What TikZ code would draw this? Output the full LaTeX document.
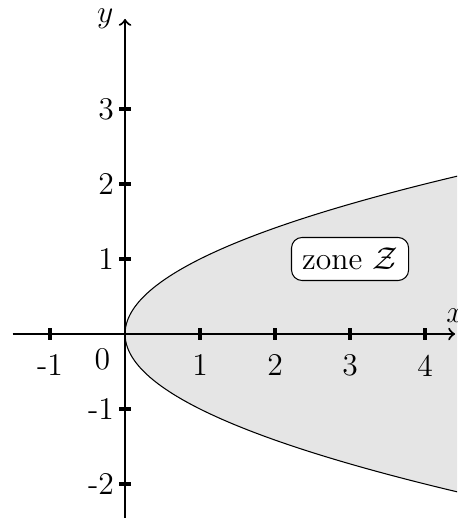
\documentclass[tikz,border=0pt,12pt]{standalone}
\usepackage{amsmath,amssymb}
\begin{document}
\begin{tikzpicture}
\useasboundingbox (-1.667,-2.453) rectangle (4.427,4.453);
\clip (-1.667,-2.453) rectangle (4.427,4.453);
\draw[fill=gray!20,domain=-2.3:2.3,samples=120,smooth,variable=\t] plot ({\t*\t},{\t});
\draw[thick,->] (-1.5,0) -- (4.4,0) node[above] (xlab) {$x$};
\draw[thick,->] (0,-2.5) -- (0,4.2) node[left] (ylab) {$y$};
\foreach \i in {-1,1,2,3,4} \draw[very thick] (\i,-0.075) -- (\i,0.075);
\foreach \i in {-2,-1,1,2,3} \draw[very thick] (-0.075,\i) -- (0.075,\i);
\node[below] (xm1) at (-1,-0.13) {-1};
\node[below] (x1) at (1,-0.13) {1};
\node[below] (x2) at (2,-0.13) {2};
\node[below] (x3) at (3,-0.13) {3};
\node[below] (x4) at (4,-0.13) {4};
\node[below left] (o) at (-0.05,-0.05) {0};
\node[left] (ym2) at (0,-2) {-2};
\node[left] (ym1) at (0,-1) {-1};
\node[left] (y1) at (0,1) {1};
\node[left] (y2) at (0,2) {2};
\node[left] (y3) at (0,3) {3};
\node[draw,fill=white,rounded corners] (zone) at (3,1) {zone $\mathcal{Z}$};
\end{tikzpicture}
\end{document}
